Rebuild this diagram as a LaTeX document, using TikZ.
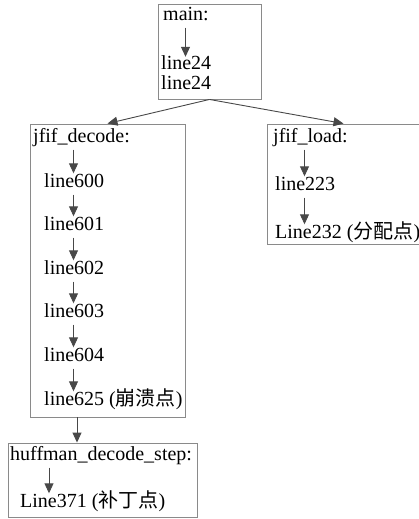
\documentclass[tikz,border=0pt]{standalone}
\usepackage{fontspec}
\setmainfont{Liberation Serif}
\newfontfamily\cjk{Noto Sans CJK SC}
\usetikzlibrary{arrows.meta,calc}
\definecolor{boxgray}{HTML}{8A8A8A}
\definecolor{arrgray}{HTML}{484848}
\tikzset{
  box/.style={draw=boxgray, line width=0.9pt, inner sep=0pt},
  txt/.style={anchor=west, inner sep=0pt, text height=13pt, text depth=4pt, font=\fontsize{20}{22}\selectfont},
  arr/.style={draw=arrgray, line width=0.9pt, -{Triangle[length=10pt,width=9pt]}, shorten <=3pt, shorten >=1pt}
}
\begin{document}
\begin{tikzpicture}[x=1pt,y=-1pt]
\useasboundingbox (0,0) rectangle (418,519);
% boxes
\node[box, minimum width=103pt, minimum height=95pt] (main) at (209.5,51.5) {};
\node[box, minimum width=155pt, minimum height=293pt] (decode) at (107.5,270.5) {};
\node[box, minimum width=153pt, minimum height=120pt] (load) at (343.5,184) {};
\node[box, minimum width=189pt, minimum height=74pt] (huff) at (102.5,480) {};
% main texts
\node[txt] (mt) at (163,16) {main:};
\node[txt] (m1) at (161,65.5) {line24};
\node[txt] (m2) at (161,85) {line24};
\coordinate (ma) at (185.5,0);
\draw[arr, shorten >=0pt] (mt.south -| ma) -- (m1.north -| ma);
% decode texts
\node[txt] (dt) at (33,138) {jfif\_decode:};
\node[txt] (d0) at (44,183) {line600};
\node[txt] (d1) at (44,226) {line601};
\node[txt] (d2) at (44,270) {line602};
\node[txt] (d3) at (44,313) {line603};
\node[txt] (d4) at (44,357) {line604};
\node[txt] (d5) at (44,401) {line625 ({\cjk 崩溃点})};
\coordinate (da) at (73.5,0);
\draw[arr] (dt.south -| da) -- (d0.north -| da);
\draw[arr] (d0.south -| da) -- (d1.north -| da);
\draw[arr] (d1.south -| da) -- (d2.north -| da);
\draw[arr] (d2.south -| da) -- (d3.north -| da);
\draw[arr] (d3.south -| da) -- (d4.north -| da);
\draw[arr] (d4.south -| da) -- (d5.north -| da);
% load texts
\node[txt] (lt) at (273,138) {jfif\_load:};
\node[txt] (l1) at (275,186) {line223};
\node[txt] (l2) at (275,234) {Line232 ({\cjk 分配点})};
\coordinate (la) at (304.5,0);
\draw[arr] (lt.south -| la) -- (l1.north -| la);
\draw[arr] (l1.south -| la) -- (l2.north -| la);
% huffman texts
\node[txt] (ht) at (10,456) {huffman\_decode\_step:};
\node[txt] (h1) at (20,503) {Line371 ({\cjk 补丁点})};
\coordinate (ha) at (49,0);
\draw[arr] (ht.south -| ha) -- (h1.north -| ha);
% connectors between boxes
\draw[arr, shorten <=0pt, shorten >=0pt] (main.south) -- (decode.north);
\draw[arr, shorten <=0pt, shorten >=0pt] (main.south) -- (load.north);
\coordinate (dh) at (77,0);
\draw[arr, shorten <=0pt, shorten >=0pt] (decode.south -| dh) -- (huff.north -| dh);
\end{tikzpicture}
\end{document}
